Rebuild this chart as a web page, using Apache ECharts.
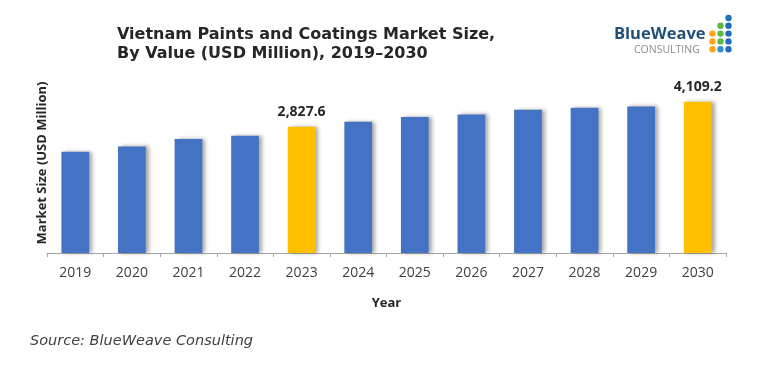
<!DOCTYPE html>
<html>
<head>
<meta charset="utf-8">
<script src="https://cdn.jsdelivr.net/npm/echarts@6/dist/echarts.min.js"></script>
<style>html,body{margin:0;padding:0;background:#fff;}#c{width:766px;height:368px;}</style>
</head>
<body>
<div id="c"></div>
<script>
const years = ['2019','2020','2021','2022','2023','2024','2025','2026','2027','2028','2029','2030'];
const values = [1546, 1818, 2197, 2366, 2827.6, 3085, 3326, 3459, 3700, 3803, 3870, 4109.2];
const highlightYears = ['2023','2030'];
const titleLines = ['Vietnam Paints and Coatings Market Size,', 'By Value (USD Million), 2019\u20132030'];
const yAxisTitle = 'Market Size (USD Million)';
const xAxisTitle = 'Year';
const sourceText = 'Source: BlueWeave Consulting';
// the original value axis is not zero-based: its hidden baseline sits at this value
const axisBase = -3650;
const axisTop = 6610;

const BLUE = '#4472c4', GOLD = '#ffc000';
const chart = echarts.init(document.getElementById('c'), null, {renderer: 'canvas'});
const fmt = v => v.toLocaleString('en-US', {minimumFractionDigits: 1, maximumFractionDigits: 1});

const dots = [];
const colX = [712.5, 720.5, 728.5];
const rowY = [18, 25.8, 33.6, 41.4, 49.2];
const dotColors = [
  [null, null, '#ffa41b', '#ffa41b', '#ffa41b'],
  [null, '#5cb942', '#5cb942', '#5cb942', '#3a8bd0'],
  ['#1f6fc0', '#1f6fc0', '#1f6fc0', '#1f6fc0', '#1f6fc0']
];
colX.forEach((x, ci) => rowY.forEach((y, ri) => {
  const c = dotColors[ci][ri];
  if (c) dots.push({type: 'circle', shape: {cx: x, cy: y, r: 3.2}, style: {fill: c}});
}));

chart.setOption({
  animation: false,
  grid: {left: 47, right: 40, top: 53, bottom: 115},
  xAxis: {
    type: 'category',
    data: years,
    axisLine: {onZero: false, lineStyle: {color: '#a6a6a6'}},
    axisTick: {show: true, length: 4, lineStyle: {color: '#a6a6a6'}},
    axisLabel: {color: '#404040', fontSize: 14, fontFamily: 'Open Sans', margin: 13},
    name: xAxisTitle,
    nameLocation: 'middle',
    nameGap: 44,
    nameTextStyle: {color: '#262626', fontSize: 13, fontWeight: 'bold', fontFamily: 'Open Sans'}
  },
  yAxis: {
    type: 'value',
    min: 0,
    max: axisTop - axisBase,
    show: false
  },
  series: [{
    type: 'bar',
    barWidth: '49%',
    data: values.map((v, i) => {
      const hi = highlightYears.includes(years[i]);
      return {
        value: v - axisBase,
        itemStyle: {color: hi ? GOLD : BLUE},
        label: {show: hi}
      };
    }),
    itemStyle: {shadowColor: 'rgba(0,0,0,0.35)', shadowBlur: 4, shadowOffsetX: 3, shadowOffsetY: 0},
    label: {
      position: 'top', distance: 8,
      formatter: p => fmt(values[p.dataIndex]),
      color: '#262626', fontSize: 14, fontWeight: 'bold', fontFamily: 'Open Sans'
    }
  }],
  graphic: [
    {type: 'text', left: 117, top: 25, style: {text: titleLines.join('\n'), font: 'bold 16px "DejaVu Sans"', fill: '#262626', lineHeight: 19}},
    {type: 'text', x: 42.5, y: 163, rotation: Math.PI / 2, style: {text: yAxisTitle, font: 'bold 13px "Open Sans"', fill: '#262626', align: 'center', verticalAlign: 'middle'}},
    {type: 'text', left: 30, top: 334, style: {text: sourceText, font: 'italic 14.5px "DejaVu Sans"', fill: '#404040'}},
    {type: 'text', left: 614, top: 26, style: {text: 'BlueWeave', font: 'bold 16.5px "Open Sans"', fill: '#1f4e79'}},
    {type: 'text', left: 634, top: 45, style: {text: 'CONSULTING', font: '10.5px "Open Sans"', fill: '#8c8c8c'}},
    ...dots
  ]
});
</script>
</body>
</html>
